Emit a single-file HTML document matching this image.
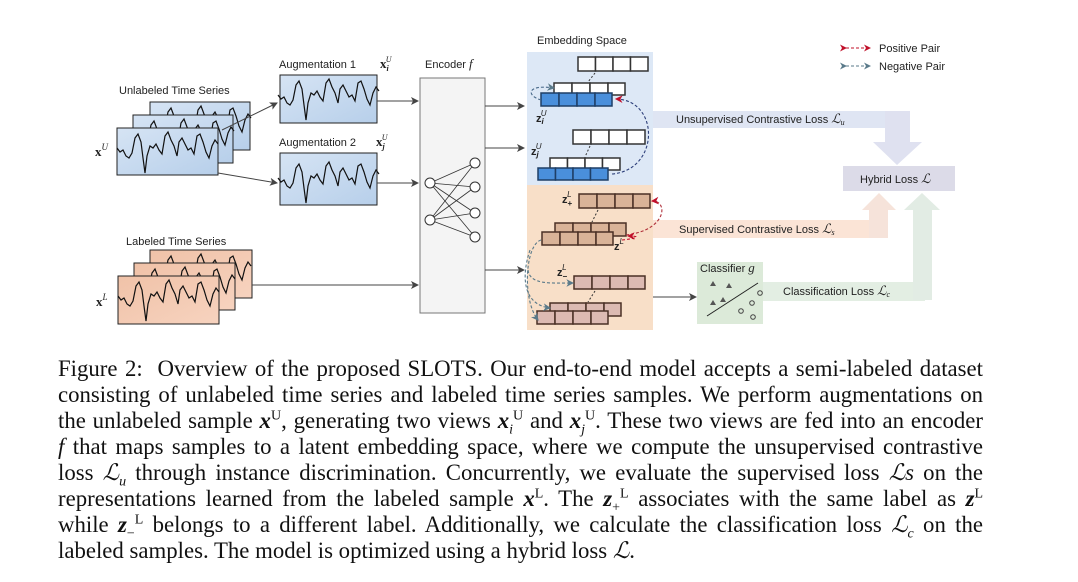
<!DOCTYPE html>
<html><head><meta charset="utf-8"><style>
body{margin:0;background:#fff;width:1078px;height:582px;overflow:hidden;position:relative}
svg{position:absolute;left:0;top:0}
svg text{font-family:"Liberation Sans",sans-serif;font-size:11px;fill:#222}
.cap{position:absolute;left:58px;width:925px;font-family:"Liberation Serif",serif;font-size:22.8px;color:#111;text-align:justify;text-align-last:justify;white-space:nowrap;line-height:26px}
.cap.l{text-align-last:left}
i{font-style:italic}
sup,sub{font-size:14px;line-height:0}
</style></head><body>
<svg width="1078" height="350" viewBox="0 0 1078 350">
<defs>
<linearGradient id="bl" x1="0" y1="0" x2="1" y2="1"><stop offset="0" stop-color="#d6e4f4"/><stop offset="1" stop-color="#b7cfea"/></linearGradient>
<linearGradient id="or" x1="0" y1="0" x2="1" y2="1"><stop offset="0" stop-color="#f0c2a8"/><stop offset="1" stop-color="#f7d3bf"/></linearGradient>
<marker id="ar" markerWidth="8" markerHeight="8" refX="7" refY="4" orient="auto"><path d="M0,0 L8,4 L0,8 L2,4Z" fill="#444"/></marker>
<marker id="rr" markerWidth="7" markerHeight="7" refX="6" refY="3.5" orient="auto"><path d="M0,0 L7,3.5 L0,7 L2,3.5Z" fill="#c0102a"/></marker>
<marker id="gr" markerWidth="7" markerHeight="7" refX="6" refY="3.5" orient="auto"><path d="M0,0 L7,3.5 L0,7 L2,3.5Z" fill="#5a7a8a"/></marker>
<polyline id="ts" fill="none" stroke="#111" stroke-width="1.2" points="0,20 3,24 6,22 9,28 12,30 15,25 18,10 21,6 24,14 26,30 28,45 30,28 33,18 36,20 39,16 42,22 45,26 48,8 51,4 54,12 57,18 60,28 62,14 65,10 68,16 71,22 74,20 77,26 80,8 83,6 86,14 89,24 92,30 95,18 98,12 101,16"/>
</defs>
<text x="119" y="94">Unlabeled Time Series</text>
<g><rect x="150" y="102" width="100" height="48" fill="url(#bl)" stroke="#222"/><use href="#ts" x="150" y="102"/></g>
<g><rect x="133" y="115" width="100" height="48" fill="url(#bl)" stroke="#222"/><use href="#ts" x="133" y="115"/></g>
<g><rect x="117" y="128" width="101" height="47" fill="url(#bl)" stroke="#222"/><use href="#ts" x="117" y="128"/></g>
<text x="95" y="156" style="font-family:'Liberation Serif';font-size:13px;font-weight:bold">x<tspan dy="-6" font-size="9" font-style="italic" font-weight="normal">U</tspan></text>
<text x="279" y="68">Augmentation 1</text>
<text x="380" y="68" style="font-family:'Liberation Serif';font-size:13px;font-weight:bold">x<tspan dy="3" font-size="8" font-style="italic">i</tspan><tspan dx="-3" dy="-9" font-size="8" font-style="italic" font-weight="normal">U</tspan></text>
<rect x="280" y="75" width="97" height="48" fill="url(#bl)" stroke="#222"/><use href="#ts" x="278" y="75"/>
<text x="279" y="146">Augmentation 2</text>
<text x="376" y="146" style="font-family:'Liberation Serif';font-size:13px;font-weight:bold">x<tspan dy="3" font-size="8" font-style="italic">j</tspan><tspan dx="-3" dy="-9" font-size="8" font-style="italic" font-weight="normal">U</tspan></text>
<rect x="280" y="153" width="97" height="52" fill="url(#bl)" stroke="#222"/><use href="#ts" x="278" y="158"/>
<line x1="222" y1="130" x2="277" y2="103" stroke="#444" marker-end="url(#ar)"/>
<line x1="218" y1="173" x2="277" y2="183" stroke="#444" marker-end="url(#ar)"/>
<line x1="377" y1="101" x2="418" y2="101" stroke="#444" marker-end="url(#ar)"/>
<line x1="377" y1="183" x2="418" y2="183" stroke="#444" marker-end="url(#ar)"/>
<text x="126" y="245">Labeled Time Series</text>
<g><rect x="150" y="250" width="102" height="48" fill="url(#or)" stroke="#222"/><use href="#ts" x="150" y="250"/></g>
<g><rect x="134" y="263" width="101" height="47" fill="url(#or)" stroke="#222"/><use href="#ts" x="134" y="263"/></g>
<g><rect x="118" y="276" width="101" height="48" fill="url(#or)" stroke="#222"/><use href="#ts" x="118" y="276"/></g>
<text x="96" y="306" style="font-family:'Liberation Serif';font-size:13px;font-weight:bold">x<tspan dy="-6" font-size="9" font-style="italic" font-weight="normal">L</tspan></text>
<line x1="252" y1="285" x2="418" y2="285" stroke="#444" marker-end="url(#ar)"/>
<text x="425" y="68">Encoder <tspan font-style="italic" style="font-family:'Liberation Serif';font-size:13px">f</tspan></text>
<rect x="420" y="78" width="65" height="235" fill="#f4f4f4" stroke="#777"/>
<g stroke="#333" stroke-width="0.8">
<line x1="430" y1="183" x2="475" y2="163"/><line x1="430" y1="183" x2="475" y2="187"/><line x1="430" y1="183" x2="475" y2="213"/><line x1="430" y1="183" x2="475" y2="237"/>
<line x1="430" y1="220" x2="475" y2="163"/><line x1="430" y1="220" x2="475" y2="187"/><line x1="430" y1="220" x2="475" y2="213"/><line x1="430" y1="220" x2="475" y2="237"/>
</g>
<g fill="#fff" stroke="#333"><circle cx="430" cy="183" r="5"/><circle cx="430" cy="220" r="5"/><circle cx="475" cy="163" r="5"/><circle cx="475" cy="187" r="5"/><circle cx="475" cy="213" r="5"/><circle cx="475" cy="237" r="5"/></g>
<line x1="485" y1="106" x2="524" y2="106" stroke="#444" marker-end="url(#ar)"/>
<line x1="485" y1="148" x2="524" y2="148" stroke="#444" marker-end="url(#ar)"/>
<line x1="485" y1="270" x2="524" y2="270" stroke="#444" marker-end="url(#ar)"/>
<rect x="653" y="111" width="245" height="17" fill="#dfe5f3"/>
<path d="M885,111 L910,111 L910,142 L922,142 L897,165 L873,142 L885,142Z" fill="#dfe1f0"/>
<rect x="653" y="220" width="235" height="18" fill="#fbe4d6"/>
<path d="M869,238 L888,238 L888,210 L896,210 L879,193 L862,210 L869,210Z" fill="#f6e3da"/>
<rect x="763" y="282" width="162" height="19" fill="#e3eee3"/>
<path d="M913,300 L932,300 L932,210 L940,210 L922,193 L904,210 L913,210Z" fill="#e2ece4"/>
<rect x="843" y="166" width="112" height="25" fill="#dcdbe8"/>
<text x="860" y="183">Hybrid Loss <tspan style="font-family:'Liberation Serif';font-style:italic;font-size:13px">ℒ</tspan></text>
<text x="676" y="123">Unsupervised Contrastive Loss <tspan style="font-family:'Liberation Serif';font-style:italic;font-size:13px">ℒ<tspan font-size="8" dy="2">u</tspan></tspan></text>
<text x="679" y="233">Supervised Contrastive Loss <tspan style="font-family:'Liberation Serif';font-style:italic;font-size:13px">ℒ<tspan font-size="8" dy="2">s</tspan></tspan></text>
<text x="783" y="295">Classification Loss <tspan style="font-family:'Liberation Serif';font-style:italic;font-size:13px">ℒ<tspan font-size="8" dy="2">c</tspan></tspan></text>
<text x="537" y="44">Embedding Space</text>
<rect x="527" y="52" width="126" height="133" fill="#dde8f6"/>
<rect x="527" y="185" width="126" height="145" fill="#f8dfc8"/>
<g stroke="#333" stroke-width="1.5">
<g fill="#fff"><rect x="578" y="57" width="17.5" height="14"/><rect x="595.5" y="57" width="17.5" height="14"/><rect x="613" y="57" width="17.5" height="14"/><rect x="630.5" y="57" width="17.5" height="14"/>
<rect x="554" y="83" width="18" height="12"/><rect x="572" y="83" width="18" height="12"/><rect x="590" y="83" width="18" height="12"/><rect x="608" y="83" width="17" height="12"/>
<rect x="573" y="130" width="18" height="14"/><rect x="591" y="130" width="18" height="14"/><rect x="609" y="130" width="18" height="14"/><rect x="627" y="130" width="18" height="14"/>
<rect x="550" y="158" width="17.5" height="12"/><rect x="567.5" y="158" width="17.5" height="12"/><rect x="585" y="158" width="17.5" height="12"/><rect x="602.5" y="158" width="17.5" height="12"/></g>
<g fill="#4a8fdb" stroke="#1e3f66"><rect x="541" y="93" width="18" height="13"/><rect x="559" y="93" width="18" height="13"/><rect x="577" y="93" width="18" height="13"/><rect x="595" y="93" width="17" height="13"/>
<rect x="538" y="168" width="17.5" height="12"/><rect x="555.5" y="168" width="17.5" height="12"/><rect x="573" y="168" width="17.5" height="12"/><rect x="590.5" y="168" width="17.5" height="12"/></g>
<g fill="#d9b398" stroke="#4a3025"><rect x="579" y="194" width="18" height="14"/><rect x="597" y="194" width="18" height="14"/><rect x="615" y="194" width="18" height="14"/><rect x="633" y="194" width="17" height="14"/>
<rect x="555" y="223" width="18" height="13"/><rect x="573" y="223" width="18" height="13"/><rect x="591" y="223" width="18" height="13"/><rect x="609" y="223" width="17" height="13"/>
<rect x="542" y="232" width="18" height="13"/><rect x="560" y="232" width="18" height="13"/><rect x="578" y="232" width="18" height="13"/><rect x="596" y="232" width="17" height="13"/></g>
<g fill="#dcbab2" stroke="#4a3025"><rect x="574" y="276" width="18" height="13"/><rect x="592" y="276" width="18" height="13"/><rect x="610" y="276" width="18" height="13"/><rect x="628" y="276" width="17" height="13"/>
<rect x="550" y="303" width="18" height="13"/><rect x="568" y="303" width="18" height="13"/><rect x="586" y="303" width="18" height="13"/><rect x="604" y="303" width="17" height="13"/>
<rect x="537" y="311" width="18" height="13"/><rect x="555" y="311" width="18" height="13"/><rect x="573" y="311" width="18" height="13"/><rect x="591" y="311" width="17" height="13"/></g>
</g>
<g stroke="#333" stroke-dasharray="2,2" fill="none"><line x1="595" y1="73" x2="588" y2="82"/><line x1="590" y1="146" x2="585" y2="157"/><line x1="598" y1="210" x2="592" y2="222"/><line x1="595" y1="291" x2="588" y2="302"/></g>
<g style="font-family:'Liberation Serif';font-size:11px;font-weight:bold">
<text x="536" y="122">z<tspan font-size="8" font-style="italic" dy="2">i</tspan><tspan font-size="8" font-style="italic" font-weight="normal" dx="-3" dy="-8">U</tspan></text>
<text x="531" y="155">z<tspan font-size="8" font-style="italic" dy="2">j</tspan><tspan font-size="8" font-style="italic" font-weight="normal" dx="-3" dy="-8">U</tspan></text>
<text x="562" y="203">z<tspan font-size="8" dy="3">+</tspan><tspan font-size="8" font-style="italic" font-weight="normal" dx="-5" dy="-9">L</tspan></text>
<text x="614" y="250">z<tspan font-size="8" font-style="italic" font-weight="normal" dy="-6">L</tspan></text>
<text x="557" y="276">z<tspan font-size="8" dy="3">−</tspan><tspan font-size="8" font-style="italic" font-weight="normal" dx="-5" dy="-9">L</tspan></text>
</g>
<g fill="none" stroke-dasharray="3,2" stroke-width="1.1">
<path d="M612,174 C660,170 660,100 616,99" stroke="#2d3f7a" marker-end="url(#rr)"/>
<path d="M626,235 C668,230 668,200 652,201" stroke="#b0303a" marker-end="url(#rr)"/>
<path d="M622,240 C640,238 640,236 628,236" stroke="#c0102a" marker-end="url(#rr)"/>
<path d="M541,100 C525,95 528,84 554,88" stroke="#4a6a8a" marker-end="url(#gr)"/>
<path d="M541,240 C525,245 522,300 538,320" stroke="#5a7a8a" marker-end="url(#gr)"/>
<path d="M528,270 C530,285 550,283 573,283" stroke="#5a7a8a" marker-end="url(#gr)"/>
<path d="M530,250 C520,280 525,305 550,308" stroke="#5a7a8a" marker-end="url(#gr)"/>
</g>
<line x1="653" y1="297" x2="696" y2="297" stroke="#444" marker-end="url(#ar)"/>
<rect x="697" y="262" width="66" height="62" fill="#dcead9"/>
<text x="700" y="272">Classifier <tspan style="font-family:'Liberation Serif';font-style:italic;font-size:13px">g</tspan></text>
<line x1="707" y1="316" x2="758" y2="283" stroke="#222"/>
<g fill="#555"><path d="M710,286 l3,-5 l3,5z"/><path d="M726,288 l3,-5 l3,5z"/><path d="M710,305 l3,-5 l3,5z"/><path d="M720,302 l3,-5 l3,5z"/></g>
<g fill="none" stroke="#444"><circle cx="752" cy="303" r="2.3"/><circle cx="741" cy="311" r="2.3"/><circle cx="753" cy="317" r="2.3"/><circle cx="760" cy="293" r="2.3"/></g>
<path d="M846,48 L870,48" stroke="#c0102a" stroke-dasharray="3,2" marker-end="url(#rr)" marker-start="url(#rr)" fill="none"/>
<path d="M846,66 L870,66" stroke="#5a7a8a" stroke-dasharray="3,2" marker-end="url(#gr)" marker-start="url(#gr)" fill="none"/>
<text x="879" y="52">Positive Pair</text>
<text x="879" y="70">Negative Pair</text>
</svg>
<div class="cap" style="top:356px">Figure 2:&nbsp; Overview of the proposed SLOTS. Our end-to-end model accepts a semi-labeled dataset</div>
<div class="cap" style="top:382px">consisting of unlabeled time series and labeled time series samples. We perform augmentations on</div>
<div class="cap" style="top:408px">the unlabeled sample <i><b>x</b></i><sup>U</sup>, generating two views <i><b>x</b></i><sub><i>i</i></sub><sup>U</sup> and <i><b>x</b></i><sub><i>j</i></sub><sup>U</sup>. These two views are fed into an encoder</div>
<div class="cap" style="top:434px"><i>f</i> that maps samples to a latent embedding space, where we compute the unsupervised contrastive</div>
<div class="cap" style="top:460px">loss <i>ℒ<sub>u</sub></i> through instance discrimination. Concurrently, we evaluate the supervised loss <i>ℒs</i> on the</div>
<div class="cap" style="top:486px">representations learned from the labeled sample <i><b>x</b></i><sup>L</sup>. The <i><b>z</b></i><sub>+</sub><sup>L</sup> associates with the same label as <i><b>z</b></i><sup>L</sup></div>
<div class="cap" style="top:512px">while <i><b>z</b></i><sub>−</sub><sup>L</sup> belongs to a different label. Additionally, we calculate the classification loss <i>ℒ<sub>c</sub></i> on the</div>
<div class="cap l" style="top:538px">labeled samples. The model is optimized using a hybrid loss <i>ℒ</i>.</div>
</body></html>
